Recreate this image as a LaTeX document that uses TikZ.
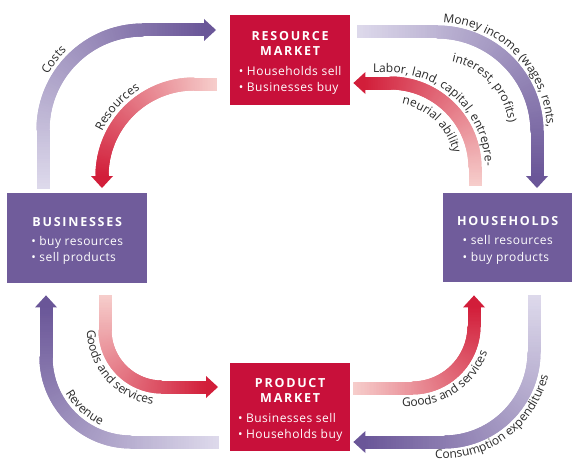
\documentclass[tikz,border=0pt]{standalone}
\usepackage{fontspec}
\setmainfont{Open Sans}
\usetikzlibrary{decorations.markings,decorations.text,calc}
\definecolor{crim}{HTML}{C8103A}
\definecolor{purp}{HTML}{705C9B}
\definecolor{dpurp}{HTML}{6A5698}
\definecolor{lpurp}{HTML}{DDD9EB}
\definecolor{dred}{HTML}{D21E3A}
\definecolor{lred}{HTML}{F6CDCB}
\definecolor{lbl}{HTML}{2A2A2A}
\newcommand\boxtitle{\fontsize{12.5}{15}\selectfont\bfseries\addfontfeatures{LetterSpace=14}}
\newcommand\boxbody{\fontsize{12}{16.5}\selectfont\addfontfeatures{LetterSpace=4}}
\newcommand\lblfont{\fontsize{12}{12}\selectfont\color{lbl}}
\newcommand\topstrut{\rule{0pt}{17pt}}
% gradient band along a path: #1 light, #2 dark, #3 corner radius, #4 path
\newcommand\gband[4]{%
  \path[rounded corners=#3, decorate, decoration={markings,
    mark=between positions 0 and 1 step 0.8pt with {%
      \pgfmathtruncatemacro\gpct{(\pgfkeysvalueof{/pgf/decoration/mark info/distance from start})/(\pgfdecoratedpathlength)*100}%
      \fill[sharp corners, #2!\gpct!#1] (-0.9pt,-6.5pt) rectangle (0.9pt,6.5pt);}}] #4;}
\begin{document}
\begin{tikzpicture}[x=1pt,y=-1pt,
  box/.style={rectangle, inner sep=0pt, text=white, align=center, anchor=north west,
    font=\fontsize{12}{15}\selectfont},
  rbox/.style={box, fill=crim},
  pbox/.style={box, fill=purp},
  lab/.style={decorate, rounded corners=#1},
  ]
\useasboundingbox[fill=white] (0,0) rectangle (575,460);

% boxes
\node[rbox, minimum width=120pt, minimum height=90pt] (res) at (230,15)
  {\topstrut{\boxtitle RESOURCE}\\{\boxtitle MARKET}\\[5pt]{\boxbody\begin{tabular}[t]{@{}l@{}}• Households sell\\• Businesses buy\end{tabular}}};
\node[rbox, minimum width=120pt, minimum height=88pt] (prod) at (230,363)
  {\topstrut{\boxtitle PRODUCT}\\{\boxtitle MARKET}\\[5pt]{\boxbody\begin{tabular}[t]{@{}l@{}}• Businesses sell\\• Households buy\end{tabular}}};
\node[pbox, minimum width=140pt, minimum height=90pt] (bus) at (7,193)
  {\topstrut{\boxtitle BUSINESSES}\\[4pt]{\boxbody\begin{tabular}[t]{@{}l@{}}• buy resources\\• sell products\end{tabular}}};
\node[pbox, minimum width=129pt, minimum height=89pt] (hh) at (443,193)
  {\topstrut{\boxtitle HOUSEHOLDS}\\[4pt]{\boxbody\begin{tabular}[t]{@{}l@{}}• sell resources\\• buy products\end{tabular}}};

% arrow end points
\coordinate (costsS) at ($(bus.north west)+(36,-5)$);
\coordinate (costsT) at ($(res.north west)+(-14,15)$);
\coordinate (costsE) at ($(costsT)+(-12,0)$);
\coordinate (resS) at ($(res.north west)+(-14,69)$);
\coordinate (resT) at ($(bus.north west)+(95,-5)$);
\coordinate (resE) at ($(resT)+(0,-12)$);
\coordinate (monS) at ($(res.north east)+(7,17)$);
\coordinate (monT) at ($(hh.north west)+(94,-5)$);
\coordinate (monE) at ($(monT)+(0,-12)$);
\coordinate (labS) at ($(hh.north west)+(32,-8)$);
\coordinate (labT) at ($(res.north east)+(3,68)$);
\coordinate (labE) at ($(labT)+(12,0)$);
\coordinate (revS) at ($(prod.north west)+(-12,79)$);
\coordinate (revT) at ($(bus.south west)+(39,12)$);
\coordinate (revE) at ($(revT)+(0,12)$);
\coordinate (glS) at ($(bus.south west)+(98,12)$);
\coordinate (glT) at ($(prod.north west)+(-12,24)$);
\coordinate (glE) at ($(glT)+(-12,0)$);
\coordinate (grS) at ($(prod.north east)+(3,25)$);
\coordinate (grT) at ($(hh.south west)+(31,13)$);
\coordinate (grE) at ($(grT)+(0,12)$);
\coordinate (conS) at ($(hh.south west)+(91,13)$);
\coordinate (conT) at ($(prod.north east)+(3,79)$);
\coordinate (conE) at ($(conT)+(12,0)$);

% bands
\gband{lpurp}{dpurp}{100pt}{(costsS) |- (costsE)}
\gband{lred}{dred}{92pt}{(resS) -| (resE)}
\gband{lpurp}{dpurp}{100pt}{(monS) -| (monE)}
\gband{lred}{dred}{85pt}{(labS) |- (labE)}
\gband{lpurp}{dpurp}{85pt}{(revS) -| (revE)}
\gband{lred}{dred}{57pt}{(glS) |- (glE)}
\gband{lred}{dred}{62pt}{(grS) -| (grE)}
\gband{lpurp}{dpurp}{90pt}{(conS) |- (conE)}

% heads
\fill[dpurp] ($(costsT)+(-12,-11)$) -- (costsT) -- ($(costsT)+(-12,11)$) -- cycle;
\fill[dred] ($(resT)+(-11,-12)$) -- (resT) -- ($(resT)+(11,-12)$) -- cycle;
\fill[dpurp] ($(monT)+(-11,-12)$) -- (monT) -- ($(monT)+(11,-12)$) -- cycle;
\fill[dred] ($(labT)+(12,-11)$) -- (labT) -- ($(labT)+(12,11)$) -- cycle;
\fill[dpurp] ($(revT)+(-11,12)$) -- (revT) -- ($(revT)+(11,12)$) -- cycle;
\fill[dred] ($(glT)+(-12,-11)$) -- (glT) -- ($(glT)+(-12,11)$) -- cycle;
\fill[dred] ($(grT)+(-11,12)$) -- (grT) -- ($(grT)+(11,12)$) -- cycle;
\fill[dpurp] ($(conT)+(12,-11)$) -- (conT) -- ($(conT)+(12,11)$) -- cycle;

% labels along the arrows
\path[lab=110pt, decoration={text along path, text={|\lblfont|Costs}, text align={left indent=116pt}}]
  (33,188) -- (33,20) -- (216,20);
\path[lab=102pt, decoration={text along path, text={|\lblfont|Resources}, text align={left indent=58pt}}]
  (92,188) -- (92,74) -- (216,74);
\path[lab=110pt, decoration={text along path, text={|\lblfont|Money income (wages, rents,}, text align={left indent=86pt}}]
  (357,22) -- (547,22) -- (547,188);
\path[lab=72pt, decoration={text along path, text={|\lblfont|interest, profits)}, text align={left indent=95pt}}]
  (357,60) -- (509,60) -- (509,188);
\path[lab=95pt, decoration={text along path, text={|\lblfont|Labor, land, capital, entrepre-}, text align={left indent=20pt}}]
  (353,73) -- (485,73) -- (485,188);
\path[lab=65pt, decoration={text along path, text={|\lblfont|neurial ability}, text align={left indent=49pt}}]
  (353,103) -- (455,103) -- (455,188);
\path[lab=78pt, decoration={text along path, text={|\lblfont|Revenue}, text align={left indent=100pt}}]
  (55,295) -- (55,432) -- (218,432);
\path[lab=75pt, decoration={text along path, text={|\lblfont|Goods and services}, text align={left indent=35pt}}]
  (87,295) -- (87,405) -- (218,405);
\path[lab=80pt, decoration={text along path, text={|\lblfont|Goods and services}, text align={left indent=49pt}}]
  (353,406) -- (492,406) -- (492,295);
\path[lab=107pt, decoration={text along path, text={|\lblfont|Consumption expenditures}, text align={left indent=82pt}}]
  (353,458.5) -- (551,458.5) -- (551,295);
\end{tikzpicture}
\end{document}
